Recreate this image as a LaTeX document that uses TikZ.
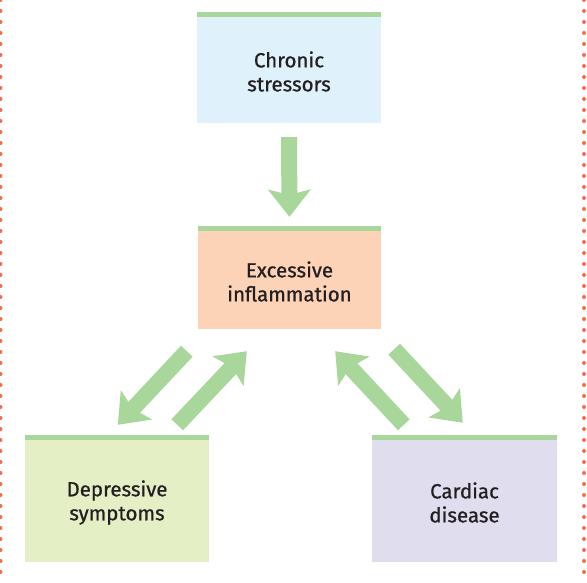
\documentclass[tikz,border=0pt]{standalone}
\usepackage{fontspec}
\setmainfont{Fira Sans}[FakeBold=0.8]
\usepackage{tikz}
\usetikzlibrary{positioning,arrows.meta}

\definecolor{bargreen}{HTML}{A9D79B}
\definecolor{stressblue}{HTML}{DFF1FB}
\definecolor{inflpeach}{HTML}{FDD3B8}
\definecolor{deplime}{HTML}{E5EFC6}
\definecolor{cardlilac}{HTML}{E0DDEF}
\definecolor{dotorange}{HTML}{F26D4F}
\definecolor{inkgrey}{HTML}{231F20}
% extra room above the first line, pushes the text below the bar
\newcommand{\boxlead}{\rule{0pt}{24pt}}

\begin{document}
\begin{tikzpicture}[
  x=1pt, y=1pt,
  font=\fontsize{20.5}{24}\selectfont,
  box/.style={inner sep=0pt, align=center, text=inkgrey, minimum width=184pt,
              path picture={\fill[bargreen] (path picture bounding box.north west)
                rectangle ([yshift=-5pt]path picture bounding box.north east);}},
  fat/.style={bargreen, line width=16pt,
              -{Stealth[length=27pt, width=42pt, inset=5pt]}},
  frame/.style={dotorange, line width=4pt, line cap=round,
                dash pattern=on 0pt off 11pt}
]
\useasboundingbox (0,0) rectangle (587,582);

\node[box, fill=stressblue, minimum height=111pt] (stress) at (289,514.5) {\boxlead Chronic\\stressors};
\node[box, fill=inflpeach, minimum height=103pt, minimum width=183pt] (infl) at (289.5,304.5) {\boxlead Excessive\\inflammation};
\node[box, fill=deplime, minimum height=127pt] (dep) at (117,83.5) {\boxlead Depressive\\symptoms};
\node[box, fill=cardlilac, minimum height=127pt, minimum width=185pt] (card) at (464.5,83.5) {\boxlead Cardiac\\disease};

% arrows between the boxes
\draw[fat] ([yshift=-14pt]stress.south) -- ([yshift=9pt]infl.north);
\draw[fat] ([shift={(-11,-22)}]infl.south west) -- ([shift={(93,10)}]dep.north west);
\draw[fat] ([shift={(-32,10)}]dep.north east) -- ([shift={(49,-22)}]infl.south west);
\draw[fat] ([shift={(32,10)}]card.north west) -- ([shift={(-46,-22)}]infl.south east);
\draw[fat] ([shift={(13,-20)}]infl.south east) -- ([shift={(91,12)}]card.north west);

% dotted frame
\draw[frame] (0.5,582) -- (0.5,0);
\draw[frame] (584,582) -- (584,0);
\end{tikzpicture}
\end{document}
